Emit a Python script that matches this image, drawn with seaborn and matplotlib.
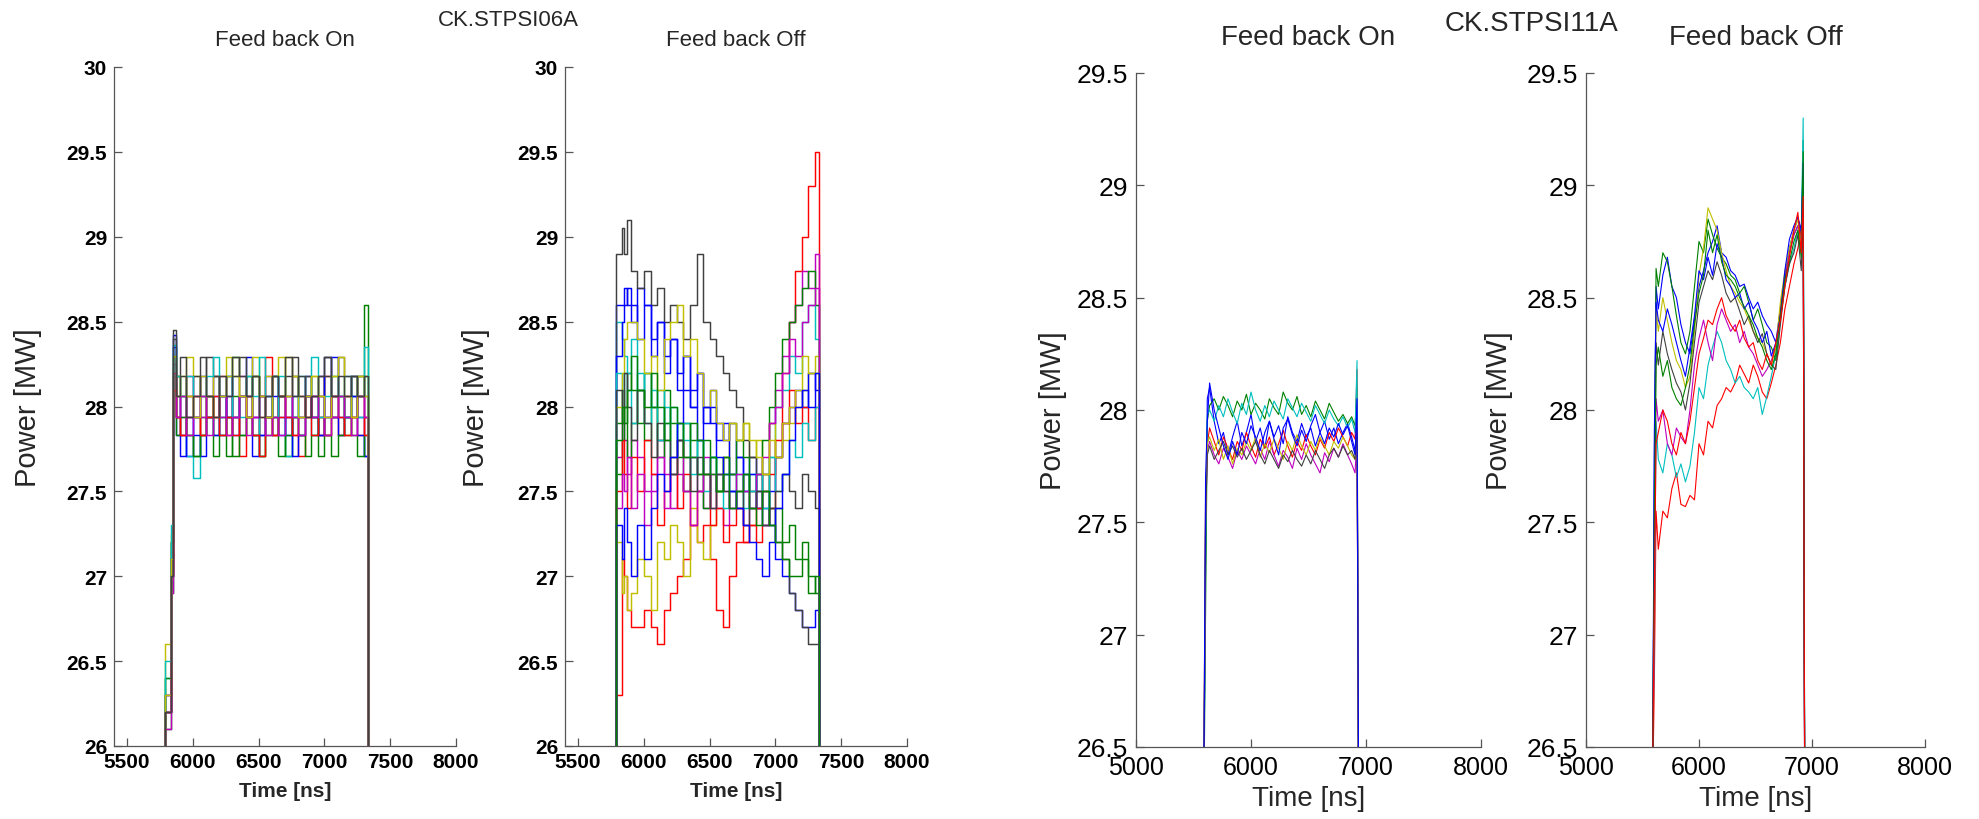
import matplotlib
matplotlib.use("Agg")
import matplotlib.pyplot as plt
import numpy as np
import pandas as pd
import seaborn as sns

sns.set_theme(style="ticks")
plt.rcParams["font.family"] = ["Liberation Sans", "DejaVu Sans"]

# ---------------- data ----------------
# CK.STPSI06A time base [ns]
T06 = [5790, 5830, 5850, 5870, 5900, 5950, 6000, 6050, 6100, 6150, 6200, 6250,
       6300, 6350, 6400, 6450, 6500, 6550, 6600, 6650, 6700, 6750, 6800, 6850,
       6900, 6950, 7000, 7050, 7100, 7150, 7200, 7250, 7300, 7330, 7340]

ON06 = [
    [25.8, 26.2, 27.0, 28.42, 28.06, 27.83, 27.71, 27.94, 28.18, 27.94,
     28.06, 27.83, 28.18, 27.94, 28.06, 28.29, 27.94, 27.83, 28.06, 28.18,
     27.94, 27.83, 28.06, 27.94, 28.18, 28.06, 27.83, 27.94, 28.29, 28.06,
     27.94, 28.18, 27.94, 27.71, 25.8],
    [25.8, 26.1, 26.9, 28.30, 27.94, 28.06, 27.83, 27.71, 27.94, 28.06,
     27.83, 27.94, 27.71, 28.06, 27.83, 27.94, 28.18, 27.71, 27.94, 27.83,
     28.06, 27.71, 27.94, 27.83, 28.06, 27.94, 27.71, 27.83, 27.94, 28.06,
     27.83, 27.94, 28.18, 28.60, 25.8],
    [25.8, 26.3, 27.1, 28.18, 27.94, 27.83, 28.06, 27.94, 27.83, 28.06,
     27.94, 28.18, 27.83, 27.94, 27.71, 28.06, 27.83, 27.94, 28.29, 27.83,
     27.94, 28.06, 27.83, 27.71, 27.94, 28.06, 27.83, 28.18, 27.94, 27.83,
     28.06, 27.94, 27.83, 27.94, 25.8],
    [25.8, 26.4, 27.2, 28.30, 28.18, 28.06, 27.71, 27.58, 27.83, 28.06,
     28.18, 27.94, 28.06, 28.29, 27.94, 28.18, 27.83, 28.06, 27.94, 28.18,
     28.06, 27.71, 28.18, 27.94, 28.06, 27.83, 28.18, 27.94, 28.06, 27.94,
     28.18, 28.06, 27.94, 28.35, 25.8],
    [25.8, 26.2, 27.0, 28.25, 28.06, 27.94, 28.18, 28.06, 27.94, 28.06,
     28.18, 27.94, 28.06, 27.94, 28.18, 28.06, 27.94, 28.06, 28.18, 27.94,
     28.06, 27.94, 28.18, 28.06, 27.94, 28.06, 28.18, 27.94, 28.06, 27.94,
     28.06, 28.18, 28.06, 27.94, 25.8],
    [25.8, 26.6, 27.25, 28.29, 28.18, 28.06, 28.29, 28.18, 28.06, 27.94,
     28.18, 28.06, 28.29, 28.18, 28.06, 28.18, 28.29, 28.06, 28.18, 27.94,
     28.06, 28.29, 28.18, 28.06, 27.94, 28.18, 28.06, 28.29, 28.18, 28.06,
     27.94, 28.18, 28.06, 28.18, 25.8],
    [25.8, 26.2, 27.2, 28.45, 28.18, 28.29, 28.06, 28.18, 28.06, 28.29,
     28.18, 28.06, 27.94, 28.18, 28.29, 28.06, 28.18, 28.06, 27.94, 28.18,
     28.06, 28.18, 28.29, 28.06, 28.18, 27.94, 28.06, 28.18, 28.06, 28.29,
     28.18, 28.06, 28.18, 28.06, 25.8],
    [25.8, 26.3, 27.1, 28.35, 27.83, 27.71, 27.94, 27.83, 27.71, 27.94,
     27.83, 28.06, 27.94, 27.83, 28.06, 27.94, 27.71, 27.83, 27.94, 28.06,
     27.83, 27.94, 27.71, 27.83, 28.06, 27.94, 27.83, 28.29, 27.94, 27.83,
     27.94, 28.06, 27.83, 27.71, 25.8],
    [25.8, 26.4, 27.2, 28.2, 27.83, 27.94, 27.83, 27.71, 27.83, 27.94,
     27.71, 27.83, 27.94, 27.71, 27.83, 27.94, 27.83, 27.71, 27.83, 27.94,
     27.71, 27.83, 27.94, 27.83, 27.71, 27.83, 27.94, 27.83, 27.71, 27.83,
     27.94, 27.83, 27.71, 27.83, 25.8],
    [25.8, 26.2, 27.0, 28.1, 27.94, 27.83, 27.94, 28.06, 27.83, 27.94,
     28.06, 27.83, 27.94, 27.83, 28.06, 27.94, 27.83, 27.71, 27.94, 27.83,
     28.06, 27.94, 27.83, 27.94, 28.06, 27.83, 27.94, 27.83, 28.06, 27.94,
     27.83, 27.94, 28.06, 27.83, 25.8],
    [25.8, 26.5, 27.3, 28.36, 28.18, 28.06, 28.18, 27.94, 28.06, 28.18,
     28.29, 28.06, 28.18, 27.94, 28.06, 28.18, 28.06, 28.29, 28.06, 27.94,
     28.18, 28.06, 27.94, 28.18, 28.06, 28.29, 27.94, 28.06, 28.18, 28.06,
     27.94, 28.18, 28.06, 28.18, 25.8],
    [25.8, 26.1, 26.9, 28.2, 27.94, 28.06, 27.83, 27.94, 28.06, 27.83,
     27.94, 28.06, 27.83, 27.94, 28.06, 27.83, 27.94, 28.06, 27.83, 27.94,
     27.83, 28.06, 27.94, 27.83, 28.06, 27.94, 28.06, 27.83, 27.94, 28.06,
     27.94, 27.83, 28.06, 27.94, 25.8],
    [25.8, 26.3, 27.1, 28.3, 28.06, 28.18, 28.06, 27.94, 28.18, 28.06,
     27.94, 28.06, 28.18, 28.29, 28.06, 27.94, 28.18, 28.06, 27.94, 28.18,
     28.29, 28.06, 28.18, 27.94, 28.06, 28.18, 28.06, 27.94, 28.18, 28.29,
     28.06, 27.94, 28.18, 28.06, 25.8],
    [25.8, 26.2, 27.0, 28.4, 28.06, 28.18, 27.94, 28.06, 28.29, 28.06,
     27.94, 28.18, 28.06, 28.29, 28.18, 28.06, 28.18, 27.94, 28.06, 28.18,
     28.06, 28.29, 28.06, 28.18, 27.94, 28.06, 28.18, 28.29, 28.06, 28.18,
     28.06, 28.18, 28.06, 28.18, 25.8],
]

OFF06 = [
    [25.8, 28.6, 28.6, 28.7, 28.6, 28.5, 28.7, 28.6, 28.4, 28.5,
     28.3, 28.4, 28.2, 28.3, 28.1, 28.2, 28.0, 28.1, 27.9, 27.8,
     27.9, 27.7, 27.6, 27.7, 27.5, 27.4, 27.3, 27.1, 27.0, 26.9,
     26.8, 26.7, 26.7, 26.8, 25.8],
    [25.8, 27.9, 28.1, 28.0, 28.2, 28.1, 27.9, 28.2, 28.0, 27.8,
     28.1, 27.9, 27.7, 27.9, 27.8, 27.6, 27.8, 27.7, 27.5, 27.7,
     27.6, 27.5, 27.6, 27.4, 27.5, 27.6, 27.3, 27.4, 27.2, 27.3,
     27.1, 27.2, 27.0, 26.9, 25.8],
    [25.8, 26.3, 27.1, 27.0, 26.8, 26.7, 26.7, 26.8, 26.7, 26.6,
     26.8, 26.9, 27.0, 27.1, 27.3, 27.2, 27.3, 27.1, 26.8, 26.7,
     27.0, 27.2, 27.2, 27.3, 27.2, 27.3, 27.4, 27.7, 28.2, 28.5,
     28.8, 29.0, 29.3, 29.5, 25.8],
    [25.8, 28.5, 28.4, 28.3, 28.2, 28.4, 28.1, 28.2, 28.0, 28.1,
     27.9, 28.0, 27.8, 27.9, 27.7, 27.8, 27.6, 27.7, 27.5, 27.6,
     27.5, 27.4, 27.5, 27.6, 27.4, 27.5, 27.7, 28.0, 28.1, 28.3,
     28.2, 28.5, 28.6, 28.4, 25.8],
    [25.8, 27.7, 27.9, 27.8, 27.6, 27.8, 27.7, 27.5, 27.6, 27.8,
     27.6, 27.4, 27.6, 27.5, 27.7, 27.5, 27.4, 27.6, 27.4, 27.3,
     27.5, 27.4, 27.3, 27.5, 27.4, 27.6, 27.9, 28.1, 28.3, 28.5,
     28.6, 28.8, 28.7, 28.9, 25.8],
    [25.8, 27.2, 26.9, 27.0, 26.8, 26.9, 27.1, 27.0, 26.8, 27.2,
     27.1, 27.3, 27.2, 27.0, 27.4, 27.2, 27.1, 27.3, 27.5, 27.7,
     27.9, 27.8, 27.9, 27.7, 27.8, 27.6, 27.9, 27.7, 27.8, 27.9,
     28.0, 28.1, 28.2, 28.3, 25.8],
    [25.8, 28.9, 29.05, 28.9, 29.1, 28.8, 28.7, 28.8, 28.6, 28.7,
     28.5, 28.6, 28.5, 28.4, 28.6, 28.9, 28.5, 28.4, 28.3, 28.2,
     28.1, 28.0, 27.8, 27.7, 27.6, 27.5, 27.4, 27.2, 27.1, 26.9,
     26.8, 26.7, 26.6, 26.6, 25.8],
    [25.8, 28.3, 28.5, 28.6, 28.7, 28.6, 28.4, 28.6, 28.3, 28.5,
     28.2, 28.4, 28.1, 28.3, 28.0, 28.2, 27.9, 28.0, 27.8, 27.9,
     27.6, 27.7, 27.5, 27.6, 27.4, 27.3, 27.5, 27.7, 27.9, 28.0,
     28.1, 28.0, 28.2, 28.1, 25.8],
    [25.8, 27.6, 27.8, 28.0, 27.7, 27.9, 28.1, 27.8, 28.0, 27.7,
     27.9, 27.6, 27.8, 27.5, 27.7, 27.6, 27.4, 27.6, 27.5, 27.7,
     27.6, 27.8, 27.7, 27.5, 27.6, 27.8, 28.0, 28.2, 28.4, 28.5,
     28.6, 28.7, 28.8, 28.6, 25.8],
    [25.8, 27.5, 27.8, 27.6, 27.4, 27.7, 27.5, 27.8, 27.6, 27.3,
     27.5, 27.7, 27.4, 27.6, 27.3, 27.5, 27.6, 27.3, 27.4, 27.2,
     27.3, 27.4, 27.2, 27.3, 27.4, 27.5, 27.6, 27.8, 27.9, 28.1,
     27.9, 28.0, 27.8, 28.0, 25.8],
    [25.8, 28.2, 28.0, 28.2, 28.1, 27.9, 28.2, 27.9, 28.1, 27.8,
     28.0, 27.7, 27.9, 27.8, 27.6, 27.8, 27.5, 27.7, 27.6, 27.4,
     27.5, 27.6, 27.4, 27.5, 27.6, 27.4, 27.7, 27.5, 27.6, 27.8,
     27.7, 27.9, 27.8, 28.0, 25.8],
    [25.8, 27.4, 27.6, 27.5, 27.7, 27.4, 27.6, 27.3, 27.5, 27.7,
     27.4, 27.6, 27.8, 27.5, 27.3, 27.5, 27.7, 27.4, 27.6, 27.5,
     27.4, 27.6, 27.5, 27.4, 27.6, 27.7, 27.9, 28.0, 28.2, 28.4,
     28.3, 28.5, 28.6, 28.7, 25.8],
    [25.8, 28.0, 28.2, 28.4, 28.5, 28.5, 28.4, 28.2, 28.3, 28.1,
     28.4, 28.5, 28.6, 28.3, 28.4, 28.2, 28.0, 28.1, 27.9, 27.8,
     27.9, 27.8, 27.9, 27.8, 27.7, 27.6, 27.8, 27.7, 27.9, 28.0,
     28.1, 28.3, 28.2, 28.2, 25.8],
    [25.8, 28.1, 27.9, 28.2, 28.0, 27.8, 28.1, 27.9, 27.7, 27.9,
     27.8, 27.6, 27.8, 27.7, 27.5, 27.7, 27.6, 27.4, 27.6, 27.5,
     27.4, 27.5, 27.3, 27.4, 27.5, 27.3, 27.4, 27.5, 27.6, 27.5,
     27.4, 27.6, 27.5, 27.4, 25.8],
    [25.8, 27.3, 27.1, 27.4, 27.2, 27.0, 27.3, 27.1, 27.4, 27.6,
     27.5, 27.7, 27.9, 28.1, 28.0, 27.8, 28.0, 27.9, 27.7, 27.6,
     27.5, 27.4, 27.3, 27.2, 27.1, 27.0, 27.2, 27.4, 27.6, 27.8,
     28.0, 28.1, 28.0, 28.2, 25.8],
    [25.8, 27.8, 28.0, 27.9, 28.1, 28.3, 28.1, 28.0, 28.2, 28.0,
     27.8, 28.0, 27.9, 27.7, 27.9, 27.8, 27.6, 27.7, 27.5, 27.6,
     27.4, 27.5, 27.6, 27.4, 27.3, 27.5, 27.3, 27.2, 27.1, 27.0,
     27.0, 27.1, 26.9, 27.0, 25.8],
]

# CK.STPSI11A time base [ns]
T11 = [5590, 5605, 5620, 5640, 5680, 5720, 5760, 5800, 5840, 5880,
       5920, 5960, 6000, 6040, 6080, 6120, 6160, 6200, 6240, 6280,
       6320, 6360, 6400, 6440, 6480, 6520, 6560, 6600, 6640, 6680,
       6720, 6760, 6800, 6840, 6875, 6905, 6922, 6935]

ON11 = [
    [26.3, 27.3, 28.05, 28.10, 27.95, 27.85, 27.90, 27.80, 27.88, 27.95,
     27.84, 27.90, 27.98, 27.86, 27.92, 27.83, 27.95, 27.88, 27.93, 27.85,
     27.97, 27.90, 27.86, 27.94, 27.88, 27.92, 27.84, 27.90, 27.95, 27.87,
     27.92, 27.85, 27.90, 27.94, 27.88, 27.82, 27.95, 26.3],
    [26.2, 27.1, 27.95, 28.02, 28.05, 28.00, 28.06, 28.02, 27.97, 28.04,
     28.00, 28.07, 27.98, 28.03, 28.00, 27.96, 28.05, 28.01, 27.98, 28.08,
     28.03, 28.00, 28.06, 27.98, 28.02, 27.97, 28.04, 28.00, 27.96, 28.03,
     27.99, 27.95, 27.98, 27.94, 27.97, 27.93, 28.10, 26.2],
    [26.4, 27.6, 27.85, 27.92, 27.86, 27.80, 27.88, 27.83, 27.78, 27.86,
     27.82, 27.90, 27.84, 27.79, 27.87, 27.83, 27.88, 27.80, 27.85, 27.91,
     27.84, 27.79, 27.86, 27.82, 27.89, 27.84, 27.80, 27.87, 27.83, 27.90,
     27.86, 27.92, 27.88, 27.84, 27.90, 27.87, 28.18, 26.4],
    [26.3, 27.4, 27.98, 28.00, 27.95, 28.02, 27.97, 28.05, 27.99, 27.94,
     28.03, 27.98, 28.08, 28.00, 27.95, 28.02, 27.97, 28.04, 28.00, 27.96,
     28.05, 28.01, 27.97, 28.03, 27.99, 27.95, 28.02, 27.98, 27.94, 28.00,
     27.96, 27.93, 27.97, 27.92, 27.96, 27.90, 28.22, 26.3],
    [26.3, 27.5, 27.82, 27.86, 27.80, 27.76, 27.83, 27.79, 27.74, 27.82,
     27.78, 27.84, 27.80, 27.76, 27.83, 27.78, 27.86, 27.80, 27.75, 27.82,
     27.79, 27.74, 27.83, 27.78, 27.85, 27.80, 27.76, 27.72, 27.81, 27.77,
     27.83, 27.79, 27.85, 27.80, 27.76, 27.72, 27.90, 26.3],
    [26.4, 27.6, 27.85, 27.88, 27.82, 27.87, 27.78, 27.84, 27.76, 27.83,
     27.80, 27.86, 27.82, 27.88, 27.79, 27.85, 27.81, 27.87, 27.83, 27.78,
     27.86, 27.82, 27.89, 27.84, 27.80, 27.86, 27.82, 27.88, 27.84, 27.80,
     27.86, 27.83, 27.88, 27.84, 27.80, 27.78, 27.95, 26.4],
    [26.3, 27.5, 27.80, 27.84, 27.78, 27.82, 27.86, 27.80, 27.84, 27.79,
     27.83, 27.78, 27.82, 27.86, 27.80, 27.76, 27.82, 27.78, 27.74, 27.80,
     27.77, 27.82, 27.78, 27.75, 27.80, 27.76, 27.82, 27.78, 27.74, 27.80,
     27.83, 27.79, 27.84, 27.80, 27.82, 27.78, 27.92, 26.3],
    [26.4, 27.7, 27.95, 28.12, 28.00, 27.92, 27.84, 27.78, 27.86, 27.80,
     27.90, 27.85, 27.93, 27.88, 27.82, 27.90, 27.95, 27.87, 27.80, 27.92,
     27.96, 27.89, 27.84, 27.91, 27.86, 27.93, 27.98, 27.90, 27.85, 27.92,
     27.88, 27.94, 27.89, 27.93, 27.86, 27.80, 28.05, 26.4],
]

OFF11 = [
    [26.3, 27.8, 28.55, 28.45, 28.60, 28.68, 28.55, 28.50, 28.38, 28.30,
     28.25, 28.40, 28.55, 28.62, 28.70, 28.75, 28.82, 28.70, 28.68, 28.62,
     28.60, 28.55, 28.56, 28.50, 28.45, 28.48, 28.42, 28.38, 28.35, 28.30,
     28.45, 28.60, 28.72, 28.80, 28.85, 28.78, 29.05, 26.3],
    [26.4, 27.6, 28.63, 28.55, 28.70, 28.66, 28.55, 28.42, 28.30, 28.25,
     28.35, 28.55, 28.75, 28.70, 28.85, 28.78, 28.72, 28.68, 28.65, 28.60,
     28.58, 28.52, 28.55, 28.48, 28.40, 28.45, 28.38, 28.30, 28.28, 28.22,
     28.40, 28.58, 28.70, 28.78, 28.82, 28.76, 29.20, 26.4],
    [26.3, 26.8, 27.55, 27.38, 27.55, 27.52, 27.65, 27.72, 27.58, 27.57,
     27.62, 27.60, 27.85, 27.80, 27.95, 27.92, 28.02, 28.05, 28.10, 28.08,
     28.12, 28.20, 28.16, 28.12, 28.20, 28.15, 28.08, 28.05, 28.12, 28.20,
     28.30, 28.45, 28.55, 28.65, 28.72, 28.80, 28.85, 26.3],
    [26.4, 27.0, 27.95, 27.78, 27.72, 27.85, 27.80, 27.70, 27.76, 27.68,
     27.75, 27.90, 28.10, 28.05, 28.20, 28.28, 28.35, 28.30, 28.22, 28.18,
     28.12, 28.15, 28.10, 28.08, 28.05, 28.10, 27.98, 28.06, 28.15, 28.25,
     28.40, 28.55, 28.65, 28.72, 28.80, 28.76, 29.30, 26.4],
    [26.3, 27.2, 28.05, 27.95, 28.00, 27.85, 27.80, 27.92, 27.88, 27.85,
     28.00, 28.20, 28.32, 28.40, 28.30, 28.22, 28.38, 28.45, 28.40, 28.35,
     28.38, 28.30, 28.35, 28.28, 28.25, 28.20, 28.15, 28.18, 28.22, 28.28,
     28.45, 28.60, 28.70, 28.78, 28.82, 28.70, 28.95, 26.3],
    [26.4, 27.5, 28.45, 28.35, 28.50, 28.40, 28.30, 28.22, 28.18, 28.10,
     28.15, 28.35, 28.60, 28.72, 28.90, 28.85, 28.80, 28.70, 28.62, 28.55,
     28.52, 28.48, 28.45, 28.40, 28.35, 28.32, 28.30, 28.25, 28.20, 28.28,
     28.48, 28.62, 28.72, 28.80, 28.85, 28.70, 29.00, 26.4],
    [26.3, 27.4, 28.30, 28.20, 28.35, 28.25, 28.18, 28.12, 28.08, 28.00,
     28.12, 28.30, 28.48, 28.55, 28.62, 28.58, 28.66, 28.60, 28.52, 28.48,
     28.50, 28.44, 28.38, 28.42, 28.35, 28.30, 28.34, 28.25, 28.20, 28.18,
     28.38, 28.55, 28.65, 28.70, 28.78, 28.62, 28.90, 26.3],
    [26.4, 27.9, 28.48, 28.40, 28.35, 28.45, 28.38, 28.30, 28.22, 28.15,
     28.28, 28.42, 28.62, 28.58, 28.68, 28.60, 28.74, 28.68, 28.58, 28.55,
     28.50, 28.52, 28.45, 28.48, 28.40, 28.36, 28.30, 28.35, 28.24, 28.30,
     28.42, 28.62, 28.76, 28.82, 28.86, 28.80, 29.10, 26.4],
    [26.3, 27.5, 28.20, 28.28, 28.15, 28.22, 28.10, 28.05, 28.02, 28.10,
     28.20, 28.38, 28.52, 28.60, 28.80, 28.70, 28.78, 28.66, 28.60, 28.58,
     28.55, 28.50, 28.46, 28.42, 28.38, 28.32, 28.28, 28.22, 28.18, 28.25,
     28.42, 28.58, 28.66, 28.75, 28.80, 28.68, 29.15, 26.3],
    [26.4, 27.2, 27.85, 27.90, 28.00, 27.95, 27.85, 27.80, 27.90, 27.85,
     27.95, 28.10, 28.25, 28.32, 28.40, 28.38, 28.45, 28.50, 28.42, 28.38,
     28.35, 28.40, 28.32, 28.28, 28.30, 28.22, 28.18, 28.25, 28.20, 28.30,
     28.40, 28.55, 28.68, 28.80, 28.88, 28.70, 28.95, 26.3],
]

TITLES = ["Feed back On", "Feed back Off"]
SUPTITLES = ["CK.STPSI06A", "CK.STPSI11A"]

X06_TICKS = [5500, 6000, 6500, 7000, 7500, 8000]
Y06_TICKS = [26, 26.5, 27, 27.5, 28, 28.5, 29, 29.5, 30]
Y06_LABELS = ["26", "26.5", "27", "27.5", "28", "28.5", "29", "29.5", "30"]
X11_TICKS = [5000, 6000, 7000, 8000]
Y11_TICKS = [26.5, 27, 27.5, 28, 28.5, 29, 29.5]
Y11_LABELS = ["26.5", "27", "27.5", "28", "28.5", "29", "29.5"]

# MATLAB-like line colour order
MCOLORS = [(0, 0, 1), (0, 0.5, 0), (1, 0, 0), (0, 0.75, 0.75),
           (0.75, 0, 0.75), (0.75, 0.75, 0), (0.25, 0.25, 0.25)]


def long_df(t, traces):
    rows = []
    for i, tr in enumerate(traces):
        assert len(tr) == len(t), (i, len(tr), len(t))
        for tt, v in zip(t, tr):
            rows.append({"Time": tt, "Power": v, "trace": f"s{i:02d}"})
    return pd.DataFrame(rows)


W, H = 1979, 820
fig = plt.figure(figsize=(W / 100, H / 100), dpi=100)


def fr(l, t, r, b):
    return [l / W, 1 - b / H, (r - l) / W, (b - t) / H]


panels = [
    dict(rect=fr(114, 68, 456, 747), t=T06, tr=ON06, title=TITLES[0], small=True,
         steps=True, ylab_x=-0.21),
    dict(rect=fr(565, 68, 907, 747), t=T06, tr=OFF06, title=TITLES[1], small=True,
         steps=True, ylab_x=-0.219),
    dict(rect=fr(1136, 74, 1481, 748), t=T11, tr=ON11, title=TITLES[0], small=False,
         steps=False, ylab_x=-0.20),
    dict(rect=fr(1586, 74, 1925, 748), t=T11, tr=OFF11, title=TITLES[1], small=False,
         steps=False, ylab_x=-0.215),
]

axc = "#555555"
for p in panels:
    ax = fig.add_axes(p["rect"])
    df = long_df(p["t"], p["tr"])
    n = len(p["tr"])
    pal = [MCOLORS[i % 7] for i in range(n)]
    kw = dict(drawstyle="steps-pre", linewidth=1.05) if p["steps"] else dict(linewidth=0.8)
    sns.lineplot(data=df, x="Time", y="Power", hue="trace", palette=pal,
                 estimator=None, sort=False, legend=False, ax=ax, **kw)
    if p["small"]:
        ax.set_xlim(5400, 8000)
        ax.set_ylim(26, 30)
        ax.set_xticks(X06_TICKS)
        ax.set_xticklabels([str(v) for v in X06_TICKS], fontsize=15, fontweight="bold")
        ax.set_yticks(Y06_TICKS)
        ax.set_yticklabels(Y06_LABELS, fontsize=15, fontweight="bold")
        ax.set_title(p["title"], fontsize=16, y=1.041, va="center", pad=0)
        ax.set_xlabel("Time [ns]", fontsize=15, fontweight="bold")
        ax.xaxis.set_label_coords(0.5, -0.052)
        ax.set_ylabel("Power [MW]", fontsize=21)
        ax.tick_params(axis="x", pad=4)
        ax.tick_params(axis="y", pad=5)
    else:
        ax.set_xlim(5000, 8000)
        ax.set_ylim(26.5, 29.5)
        ax.set_xticks(X11_TICKS)
        ax.set_xticklabels([str(v) for v in X11_TICKS], fontsize=18)
        ax.set_yticks(Y11_TICKS)
        ax.set_yticklabels(Y11_LABELS, fontsize=19)
        ax.set_title(p["title"], fontsize=20, y=1.053, va="center", pad=0)
        ax.set_xlabel("Time [ns]", fontsize=20)
        ax.xaxis.set_label_coords(0.5, -0.056)
        ax.set_ylabel("Power [MW]", fontsize=21)
        ax.tick_params(axis="x", pad=6)
        ax.tick_params(axis="y", pad=6)
    ax.yaxis.set_label_coords(p["ylab_x"], 0.5)
    ax.tick_params(direction="in", length=6, width=0.9, color=axc, labelcolor="black")
    sns.despine(ax=ax)
    for s in ("left", "bottom"):
        ax.spines[s].set_color(axc)
        ax.spines[s].set_linewidth(0.9)
    ax.set_facecolor("white")

fig.text(508 / W, 1 - 20 / H, SUPTITLES[0], ha="center", va="center", fontsize=16)
fig.text(1531 / W, 1 - 24 / H, SUPTITLES[1], ha="center", va="center", fontsize=20)

fig.savefig("out.png", dpi=100, facecolor="white")
